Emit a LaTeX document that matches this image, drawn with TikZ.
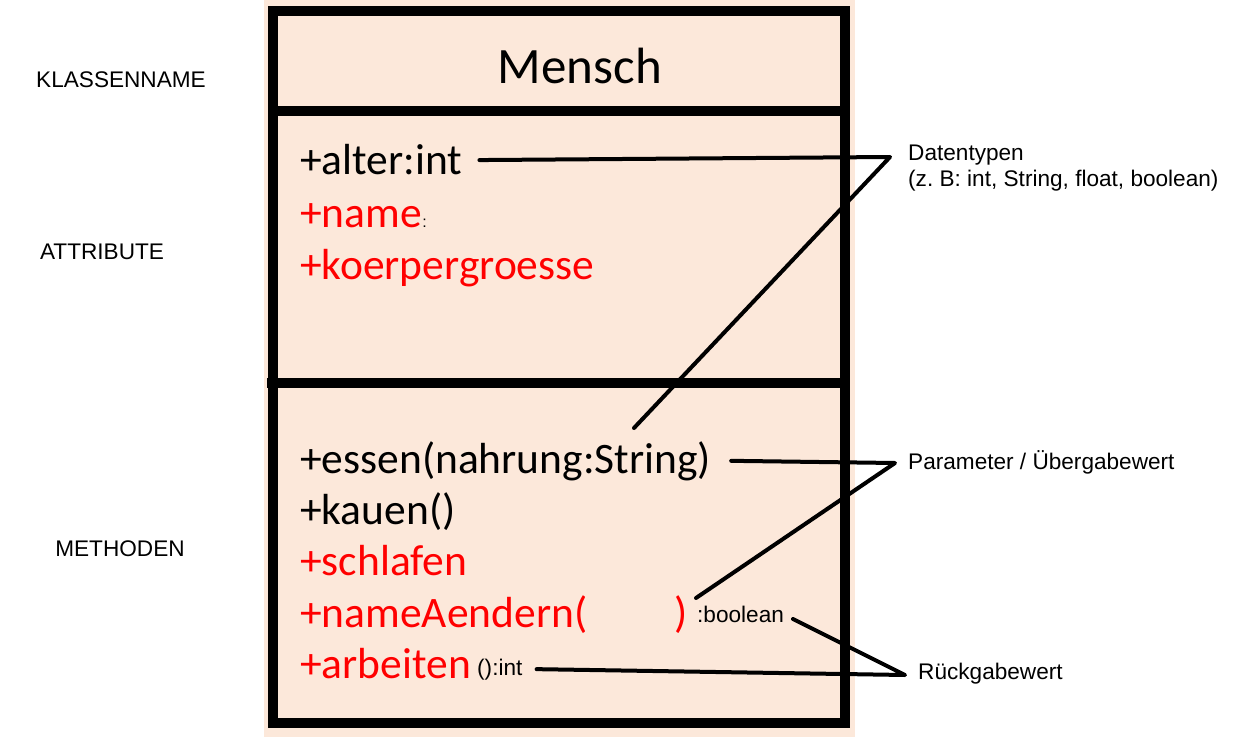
\documentclass[tikz,border=0pt]{standalone}
\usepackage{fontspec}
\setmainfont{Liberation Sans}
\newfontfamily\umlfont{Carlito}
\usetikzlibrary{positioning}
\definecolor{peach}{HTML}{FCE8DA}

\begin{document}
\begin{tikzpicture}[x=1pt,y=-1pt,
      umlline/.style={line width=10pt},
      member/.style={anchor=base west,inner sep=0pt,font=\umlfont\fontsize{43.5}{43.5}\selectfont},
      redmember/.style={member,text=red},
      note/.style={inner sep=0pt,font=\fontsize{22.6}{26}\selectfont},
      leader/.style={line width=4pt,line cap=round,line join=round}
      ]
      \useasboundingbox (0,0) rectangle (1257,738);
      \fill[peach] (264,0) rectangle (855,737);
      \draw[umlline] (273,11) rectangle (845,723);
      \draw[umlline] (273,111) -- (845,111);
      \draw[umlline] (267,383) -- (840,383);
      \node (mensch) at (580,66) {\umlfont\fontsize{51}{51}\selectfont Mensch};
      \node (alter) [member] at (300,175) {+alter:int};
      \node (name) [redmember] at (300,227) {+name};
      \node (namecolon) [note,anchor=base west,font=\fontsize{16}{16}\selectfont] at (name.base east) {:};
      \node (groesse) [redmember] at (300,279) {+koerpergroesse};
      \node (essen) [member] at (300,473) {+essen(nahrung:String)};
      \node (kauen) [member] at (300,524) {+kauen()};
      \node (schlafen) [redmember] at (300,575) {+schlafen};
      \node (aendern) [redmember] at (300,627) {+nameAendern(};
      \node (aendernzu) [redmember] at (674,627) {)};
      \node (boolean) [note,anchor=base west] at (697,622) {:boolean};
      \node (arbeiten) [redmember] at (300,678) {+arbeiten};
      \node (retint) [note,anchor=base west] at (477,675) {():int};
      \node (klassenname) [note] at (121,80) {KLASSENNAME};
      \node (attribute) [note] at (102,252) {ATTRIBUTE};
      \node (methoden) [note] at (120,549) {METHODEN};
      \node (datentypen) [note,anchor=west,align=left] at (908,168) {Datentypen\\(z.\ B: int, String, float, boolean)};
      \node (parameter) [note,anchor=west] at (908,462) {Parameter / Übergabewert};
      \node (rueckgabe) [note,anchor=west] at (918,674) {Rückgabewert};
      \coordinate (datvertex) at (890,157);
      \coordinate (datend) at (634,428);
      \coordinate (parvertex) at (895,463);
      \coordinate (parend) at (696,598);
      \coordinate (rueckvertex) at (905,675);
      \coordinate (boolend) at (793,619);
      \draw[leader] ([xshift=17pt]alter.east) -- (datvertex) -- (datend);
      \draw[leader] ([xshift=20pt]essen.east) -- (parvertex) -- (parend);
      \draw[leader] (boolend) -- (rueckvertex) -- ([xshift=14pt]retint.east);
    \end{tikzpicture}
\end{document}
